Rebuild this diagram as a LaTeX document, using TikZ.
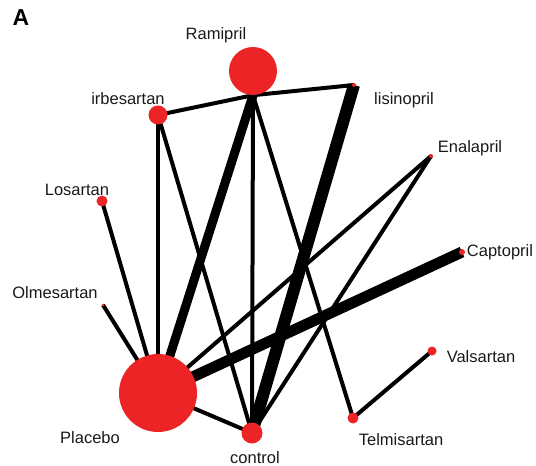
\documentclass[tikz,border=0pt]{standalone}
\usepackage{fontspec}
\setmainfont{Liberation Sans}
\usepackage{xcolor}
\usepackage{tikz}
\usetikzlibrary{positioning, calc}

\definecolor{drugred}{RGB}{236,36,38}
\pgfdeclarelayer{bg}
\pgfsetlayers{bg,main}

\begin{document}
\begin{tikzpicture}[
  x=1pt, y=-1pt,
  drug/.style={circle, fill=drugred, inner sep=0pt, draw=none},
  lbl/.style={font=\fontsize{16.5}{18}\selectfont, text=black!90, inner sep=0pt},
  link/.style={line width=4pt, draw=black},
  wide/.style={line width=9pt, draw=black},
  wider/.style={line width=11pt, draw=black}
]
\useasboundingbox (0,0) rectangle (536,466);

\node[font=\fontsize{23}{24}\selectfont\bfseries, inner sep=0pt] (panel) at (21,18) {A};

% treatments
\node (ramipril)    [drug, minimum size=48pt] at (253,71)  {};
\node (irbesartan)  [drug, minimum size=19pt] at (158,115) {};
\node (lisinopril)  [drug, minimum size=4pt]  at (354,85)  {};
\node (enalapril)   [drug, minimum size=4pt]  at (431,156) {};
\node (losartan)    [drug, minimum size=11pt] at (102,201) {};
\node (captopril)   [drug, minimum size=6pt]  at (462,252) {};
\node (olmesartan)  [drug, minimum size=3pt]  at (103,305) {};
\node (placebo)     [drug, minimum size=78pt] at (158,393) {};
\node (control)     [drug, minimum size=21pt] at (252,433) {};
\node (telmisartan) [drug, minimum size=11pt] at (353,418) {};
\node (valsartan)   [drug, minimum size=9pt]  at (432,351) {};

% names
\node (ramipril-l)    [lbl] at (216,35)  {Ramipril};
\node (irbesartan-l)  [lbl] at (128,99)  {irbesartan};
\node (lisinopril-l)  [lbl] at (404,100) {lisinopril};
\node (enalapril-l)   [lbl] at (470,148) {Enalapril};
\node (losartan-l)    [lbl] at (77,190)  {Losartan};
\node (captopril-l)   [lbl] at (500,252) {Captopril};
\node (olmesartan-l)  [lbl] at (55,293)  {Olmesartan};
\node (placebo-l)     [lbl] at (90,438)  {Placebo};
\node (control-l)     [lbl] at (255,458) {control};
\node (telmisartan-l) [lbl] at (401,440) {Telmisartan};
\node (valsartan-l)   [lbl] at (481,357) {Valsartan};

\begin{pgfonlayer}{bg}
\draw[link]  (irbesartan.center) -- (ramipril.south);
\draw[link]  (ramipril.south) -- (lisinopril.center);
\draw[link]  (irbesartan.center) -- (placebo.center);
\draw[link]  (irbesartan.center) -- (control.center);
\draw[wide]  (ramipril.south) -- (placebo.center);
\draw[link]  (ramipril.south) -- (control.center);
\draw[link]  (ramipril.south) -- (telmisartan.center);
\draw[wider, line width=12pt] (lisinopril.center) -- (control.center);
\draw[link]  (enalapril.center) -- (placebo.center);
\draw[link]  (enalapril.center) -- (control.center);
\draw[wider] (captopril.center) -- (placebo.center);
\draw[link]  (losartan.center) -- (placebo.center);
\draw[link]  (olmesartan.center) -- (placebo.center);
\draw[link]  (placebo.center) -- (control.center);
\draw[link]  (telmisartan.center) -- (valsartan.center);
\end{pgfonlayer}

\end{tikzpicture}
\end{document}
